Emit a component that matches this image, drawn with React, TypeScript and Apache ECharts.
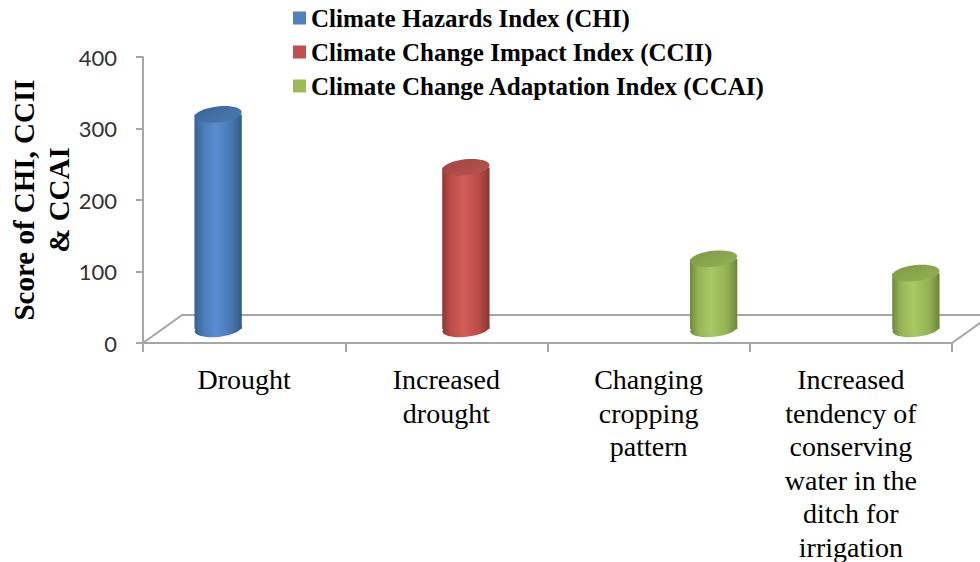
import React, { useEffect, useRef } from "react";
import * as echarts from "echarts";

// Categories (line breaks as they wrap under the axis)
const categories = [
  "Drought",
  "Increased\ndrought",
  "Changing\ncropping\npattern",
  "Increased\ntendency of\nconserving\nwater in the\nditch for\nirrigation",
];

const seriesNames = [
  "Climate Hazards Index (CHI)",
  "Climate Change Impact Index (CCII)",
  "Climate Change Adaptation Index (CCAI)",
];

// Scores per category for each index (0 = not applicable)
const chiValues = [300, 0, 0, 0];
const cciiValues = [0, 226, 0, 0];
const ccaiValues = [0, 0, 98, 78];

const yTicks = [0, 100, 200, 300, 400];

// Cylinder shading: [dark edge, mid, highlight, mid, dark edge] and top cap
const palettes = [
  { base: "#4f81bd", stops: ["#36608f", "#4a7bb8", "#5a8ed0", "#4977b2", "#335a88"], cap: ["#3a6498", "#4b7ab2"] },
  { base: "#c0504d", stops: ["#8f3835", "#bb4c49", "#d45d5a", "#b84b48", "#8a3633"], cap: ["#a14441", "#b85350"] },
  { base: "#9bbb59", stops: ["#6f8a3a", "#95b456", "#a9c965", "#93b253", "#6a8537"], cap: ["#7d9b43", "#93b257"] },
];

// Layout of the plot area and the oblique floor depth
const GRID = { left: 143, right: 28, top: 57, bottom: 219 };
const DEPTH_X = 39;
const DEPTH_Y = -28;
const W = 980;
const H = 562;

const seriesValues = [chiValues, cciiValues, ccaiValues];

function bodyGradient(stops: string[]) {
  return new echarts.graphic.LinearGradient(0, 0, 1, 0, [
    { offset: 0, color: stops[0] },
    { offset: 0.18, color: stops[1] },
    { offset: 0.45, color: stops[2] },
    { offset: 0.78, color: stops[3] },
    { offset: 1, color: stops[4] },
  ]);
}

function makeRenderItem(seriesIdx: number) {
  const pal = palettes[seriesIdx];
  return (params: any, api: any) => {
    const cat = api.value(0);
    const val = api.value(1);
    if (!val) return null;
    const base = api.coord([cat, 0]);
    const top = api.coord([cat, val]);
    const band = api.size([1, 0])[0];
    const slot = (seriesIdx - 1) * band * 0.225;
    const cx = base[0] + slot + DEPTH_X / 2;
    const by = base[1] + DEPTH_Y / 2;
    const ty = top[1] + DEPTH_Y / 2;
    const rx = band * 0.117;
    const ry = 8;
    const tilt = 0.11;
    return {
      type: "group",
      children: [
        {
          type: "ellipse",
          shape: { cx, cy: by, rx, ry },
          rotation: tilt,
          originX: cx,
          originY: by,
          style: { fill: bodyGradient(pal.stops) },
        },
        {
          type: "rect",
          shape: { x: cx - rx, y: ty, width: rx * 2, height: by - ty },
          style: { fill: bodyGradient(pal.stops) },
        },
        {
          type: "ellipse",
          shape: { cx, cy: ty, rx, ry },
          rotation: tilt,
          originX: cx,
          originY: ty,
          style: {
            fill: new echarts.graphic.LinearGradient(0, 0, 1, 1, [
              { offset: 0, color: pal.cap[0] },
              { offset: 1, color: pal.cap[1] },
            ]),
          },
        },
      ],
    };
  };
}

export default function App() {
  const ref = useRef<HTMLDivElement>(null);

  useEffect(() => {
    if (!ref.current) return;
    const chart = echarts.init(ref.current, null, { renderer: "svg" });

    const frontY = H - GRID.bottom;
    const frontLeft = GRID.left;
    const frontRight = W - GRID.right;
    const floorColor = "#a6a6a6";

    const option: any = {
      animation: false,
      backgroundColor: "#ffffff",
      legend: {
        orient: "vertical",
        left: 288,
        top: -1,
        icon: "rect",
        itemWidth: 13,
        itemHeight: 13,
        itemGap: 6,
        textStyle: {
          fontFamily: "Liberation Serif",
          fontWeight: "bold",
          fontSize: 25,
          color: "#000000",
          lineHeight: 28,
        },
        data: seriesNames,
      },
      grid: {
        left: GRID.left,
        right: GRID.right,
        top: GRID.top,
        bottom: GRID.bottom,
        containLabel: false,
        outerBoundsMode: "none",
      },
      xAxis: {
        type: "category",
        data: categories,
        boundaryGap: true,
        axisLine: { show: true, lineStyle: { color: floorColor, width: 2 } },
        axisTick: { show: true, length: 9, lineStyle: { color: floorColor, width: 2 } },
        axisLabel: {
          interval: 0,
          margin: 20,
          fontFamily: "Liberation Serif",
          fontSize: 28,
          lineHeight: 33.5,
          color: "#000000",
          align: "center",
        },
      },
      yAxis: {
        type: "value",
        min: yTicks[0],
        max: yTicks[yTicks.length - 1],
        interval: 100,
        name: "Score of CHI, CCII\n& CCAI",
        nameLocation: "middle",
        nameGap: 67,
        nameMoveOverlap: false,
        nameTextStyle: {
          fontFamily: "Liberation Serif",
          fontWeight: "bold",
          fontSize: 29,
          lineHeight: 35,
          color: "#000000",
        },
        axisLine: { show: true, lineStyle: { color: floorColor, width: 2 } },
        axisTick: { show: true, length: 7, lineStyle: { color: floorColor, width: 2 } },
        splitLine: { show: false },
        axisLabel: {
          margin: 26,
          fontFamily: "Lato",
          fontSize: 22,
          color: "#333333",
        },
      },
      graphic: [
        {
          type: "polyline",
          z: 0,
          shape: {
            points: [
              [frontLeft, frontY],
              [frontLeft + DEPTH_X, frontY + DEPTH_Y],
              [frontRight + DEPTH_X, frontY + DEPTH_Y],
            ],
          },
          style: { stroke: floorColor, lineWidth: 2, fill: null },
        },
        {
          type: "line",
          z: 0,
          shape: { x1: frontRight, y1: frontY, x2: frontRight + DEPTH_X, y2: frontY + DEPTH_Y },
          style: { stroke: floorColor, lineWidth: 2 },
        },
      ],
      series: seriesNames.map((name, i) => ({
        name,
        type: "custom",
        coordinateSystem: "cartesian2d",
        itemStyle: { color: palettes[i].base },
        renderItem: makeRenderItem(i),
        encode: { x: 0, y: 1 },
        data: seriesValues[i].map((v, c) => [c, v]),
        z: 5,
      })),
    };

    chart.setOption(option);
    return () => chart.dispose();
  }, []);

  return (
    <div
      ref={ref}
      style={{ position: "fixed", left: 0, top: 0, width: W, height: H, background: "#fff" }}
    />
  );
}
